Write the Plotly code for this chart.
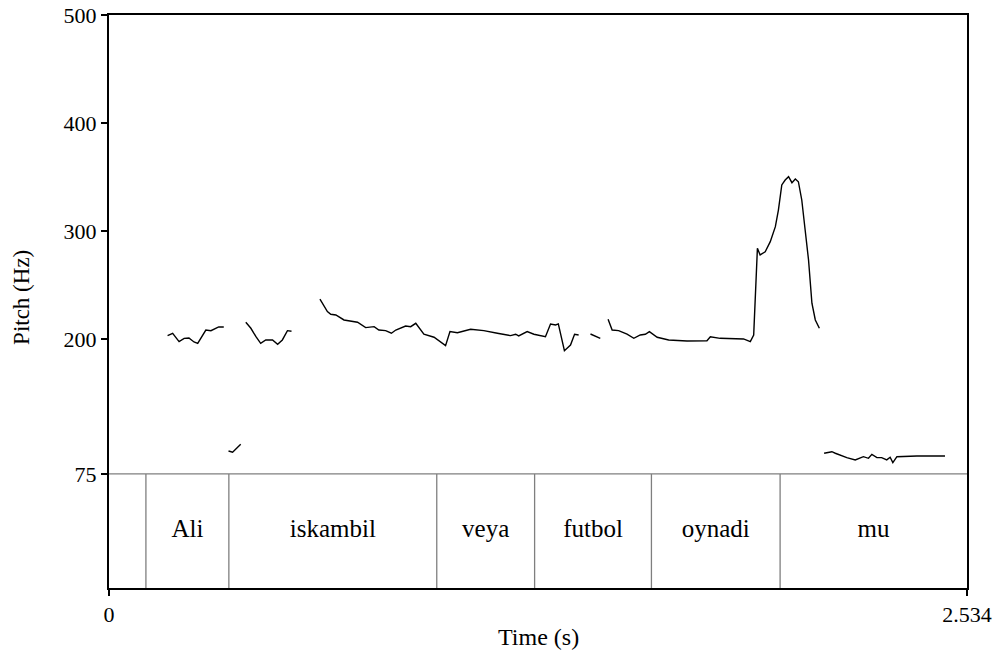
import plotly.graph_objects as go

# ---- pitch contour segments (time s, pitch Hz) ----
seg_t = [
    [0.173, 0.188, 0.207, 0.222, 0.236, 0.251, 0.262, 0.286, 0.301, 0.324, 0.339],
    [0.353, 0.365, 0.389],
    [0.404, 0.419, 0.434, 0.448, 0.463, 0.483, 0.498, 0.512, 0.527, 0.539],
    [0.623, 0.645, 0.655, 0.670, 0.694, 0.734, 0.758, 0.783, 0.797, 0.817, 0.834, 0.847,
     0.876, 0.891, 0.906, 0.930, 0.960, 0.979, 0.994, 1.007, 1.029, 1.068, 1.107, 1.147,
     1.186, 1.201, 1.210, 1.235, 1.255, 1.289, 1.304, 1.319, 1.327, 1.345, 1.363, 1.375, 1.387],
    [1.422, 1.436, 1.451],
    [1.474, 1.486, 1.505, 1.530, 1.550, 1.569, 1.584, 1.596, 1.619, 1.653, 1.707, 1.737,
     1.766, 1.776, 1.805, 1.874, 1.894, 1.904, 1.915, 1.923, 1.938, 1.953, 1.968, 1.977,
     1.987, 1.997, 2.007, 2.017, 2.027, 2.036, 2.046, 2.056, 2.066, 2.076, 2.086, 2.098],
    [2.112, 2.135, 2.145, 2.159, 2.179, 2.204, 2.228, 2.243, 2.253, 2.268, 2.282, 2.297,
     2.307, 2.315, 2.327, 2.386, 2.469],
]
seg_hz = [
    [203.1, 205.3, 197.5, 200.6, 200.9, 197.2, 196.0, 208.3, 207.7, 211.1, 211.1],
    [96.3, 95.1, 102.5],
    [215.5, 209.9, 202.1, 196.0, 199.1, 199.1, 195.1, 199.1, 207.7, 207.1],
    [236.8, 225.3, 222.9, 222.2, 217.6, 215.5, 210.5, 211.4, 208.3, 207.7, 205.3, 208.3,
     212.0, 211.4, 214.5, 204.4, 201.6, 197.5, 193.8, 206.8, 205.8, 209.0, 207.7, 205.3,
     203.1, 204.4, 202.8, 206.8, 204.4, 202.1, 213.9, 213.0, 213.9, 189.2, 194.4, 204.4, 203.7],
    [204.6, 202.6, 200.6],
    [218.2, 208.3, 207.7, 204.4, 200.6, 203.7, 204.4, 206.8, 201.6, 199.1, 198.1, 198.4,
     198.4, 202.1, 200.6, 200.0, 197.5, 203.7, 284.0, 277.8, 280.8, 290.1, 304.0, 319.4,
     342.6, 347.2, 350.3, 344.7, 348.1, 345.6, 328.7, 300.9, 273.1, 233.1, 217.6, 209.9],
    [94.2, 95.6, 94.2, 92.6, 90.1, 88.0, 91.0, 89.5, 93.2, 90.1, 90.1, 88.0,
     90.5, 85.5, 91.0, 91.7, 91.7],
]

# ---- text grid tier ----
boundaries = [0.109, 0.354, 0.968, 1.257, 1.602, 1.982]
words = ["Ali", "iskambil", "veya", "futbol", "oynadi", "mu"]
t_end = 2.534

# ---- axis ticks ----
y_ticks = [75, 200, 300, 400, 500]
x_ticks = [0, t_end]
x_ticktext = ["0", "2.534"]

y_min_hz = 75
y_max_hz = 500
tier_bottom = -30.6

SERIF = "Liberation Serif"

fig = go.Figure()

# pitch contour
xs, ys = [], []
for t, h in zip(seg_t, seg_hz):
    xs += t + [None]
    ys += h + [None]
fig.add_trace(go.Scatter(x=xs, y=ys, mode="lines",
                         line=dict(color="black", width=1.4),
                         connectgaps=False, hoverinfo="skip", showlegend=False))

# tier lines
tx = [0, t_end, None]
ty = [y_min_hz, y_min_hz, None]
for b in boundaries:
    tx += [b, b, None]
    ty += [tier_bottom, y_min_hz, None]
fig.add_trace(go.Scatter(x=tx, y=ty, mode="lines",
                         line=dict(color="#7f7f7f", width=1.3),
                         hoverinfo="skip", showlegend=False))

# word labels
edges = boundaries + [t_end]
centers = [(edges[i] + edges[i + 1]) / 2 for i in range(len(words))]
fig.add_trace(go.Scatter(x=centers, y=[(y_min_hz + tier_bottom) / 2] * len(words),
                         mode="text", text=words,
                         textfont=dict(family=SERIF, size=25, color="black"),
                         hoverinfo="skip", showlegend=False))

fig.update_layout(
    width=1000, height=657,
    margin=dict(l=109, r=33, t=15, b=69),
    plot_bgcolor="white", paper_bgcolor="white",
    font=dict(family=SERIF, size=22, color="black"),
    showlegend=False,
    annotations=[
        dict(text="Time (s)", xref="paper", yref="paper", x=0.501, y=-0.0855,
             xanchor="center", yanchor="middle", showarrow=False,
             font=dict(family=SERIF, size=24, color="black")),
        dict(text="Pitch (Hz)", xref="paper", yref="paper", x=-0.1014, y=0.508,
             xanchor="center", yanchor="middle", showarrow=False, textangle=-90,
             font=dict(family=SERIF, size=23, color="black")),
    ],
)
fig.update_xaxes(range=[0, t_end], tickvals=x_ticks, ticktext=x_ticktext,
                 showgrid=False, zeroline=False, showline=True, linecolor="black",
                 linewidth=2, mirror=True, ticks="outside", ticklen=6, tickwidth=2,
                 tickcolor="black", automargin=False, ticklabeloverflow="allow",
                 tickfont=dict(family=SERIF, size=22, color="black"))
fig.update_yaxes(range=[tier_bottom, y_max_hz], tickvals=y_ticks,
                 showgrid=False, zeroline=False, showline=True, linecolor="black",
                 linewidth=2, mirror=True, ticks="outside", ticklen=6, tickwidth=2,
                 tickcolor="black", automargin=False, ticklabeloverflow="allow",
                 tickfont=dict(family=SERIF, size=22, color="black"))

# remove the page's default 8px body margin so the figure sits at the window origin
fig.write_html("out.html", config={"displayModeBar": False},
               post_script="document.body.style.margin='0px';")
